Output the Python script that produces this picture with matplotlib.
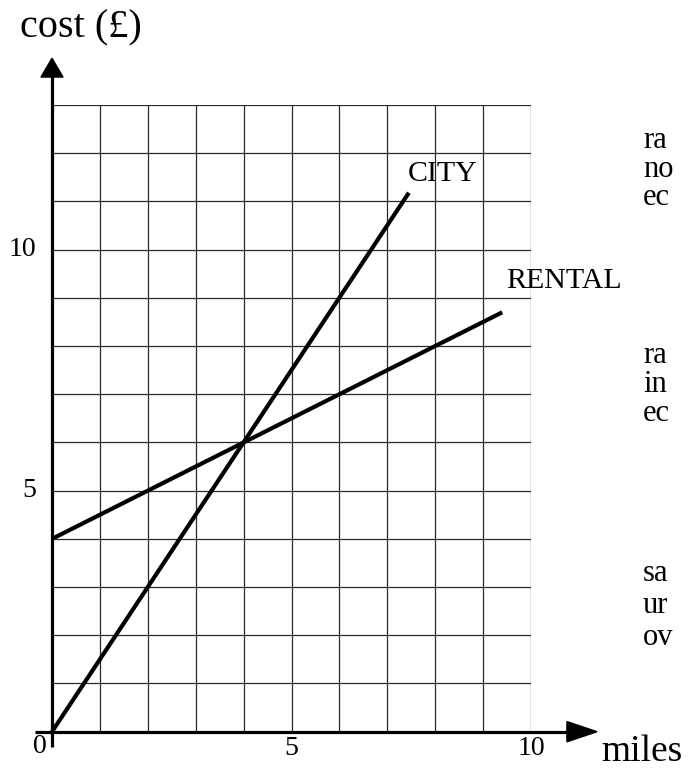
import matplotlib
matplotlib.use("Agg")
import matplotlib.pyplot as plt
from matplotlib.patches import Polygon

plt.rcParams['font.family'] = ['Liberation Serif', 'DejaVu Serif']

# Cost lines for the two services
city_miles = [0, 7.45]
city_cost = [0, 11.18]
rental_miles = [0, 9.4]
rental_cost = [4, 8.7]

x_ticks = list(range(0, 11))
y_ticks = list(range(0, 14))
x_tick_labels = {5: "5", 10: "10"}
y_tick_labels = {5: "5", 10: "10"}

W, H = 694, 769
fig = plt.figure(figsize=(W / 100, H / 100), dpi=100)
x0, y0, x1, y1 = 52, 731.7, 531, 105
ax = fig.add_axes([x0 / W, 1 - y0 / H, (x1 - x0) / W, (y0 - y1) / H])
ax.set_xlim(0, 10)
ax.set_ylim(0, 13)
for s in ax.spines.values():
    s.set_visible(False)
ax.set_xticks(x_ticks)
ax.set_yticks(y_ticks)
ax.set_xticklabels([])
ax.set_yticklabels([])
ax.tick_params(length=0)
ax.grid(True, color='#2a2a2a', lw=0.9)
ax.set_axisbelow(True)

# main axes with arrowheads
ax.plot([-0.35, 10.77], [0, 0], color='black', lw=2.3, clip_on=False,
        solid_capstyle='butt', zorder=4)
ax.plot([0, 0], [-0.32, 13.6], color='black', lw=2.3, clip_on=False,
        solid_capstyle='butt', zorder=4)
ax.add_patch(Polygon([[10.75, 0.21], [10.75, -0.21], [11.38, 0]], closed=True,
                     color='black', clip_on=False, zorder=5))
ax.add_patch(Polygon([[-0.23, 13.58], [0.23, 13.58], [0, 13.97]], closed=True,
                     color='black', clip_on=False, zorder=5))

ax.plot(city_miles, city_cost, color='black', lw=3.0, solid_capstyle='butt',
        clip_on=False, zorder=6)
ax.plot(rental_miles, rental_cost, color='black', lw=3.0, solid_capstyle='butt',
        clip_on=False, zorder=6)

ax.text(7.43, 11.43, "CITY", fontsize=21.5, ha='left', va='baseline')
ax.text(9.49, 9.21, "RENTAL", fontsize=21.5, ha='left', va='baseline')

for v, lab in x_tick_labels.items():
    ax.text(v, -0.34, lab, fontsize=20, ha='center', va='center', clip_on=False)
for v, lab in y_tick_labels.items():
    ax.text(-0.33, v, lab, fontsize=20, ha='right', va='center', clip_on=False)
ax.text(-0.25, -0.3, "0", fontsize=20, ha='center', va='center')

ax.text(-0.67, 14.40, "cost (£)", fontsize=29, ha='left', va='baseline')
ax.text(11.46, -0.61, "miles", fontsize=27, ha='left', va='baseline')

# text column at the right edge
side_text = [("ra", 148), ("no", 177), ("ec", 205),
             ("ra", 363), ("in", 392), ("ec", 421),
             ("sa", 581), ("ur", 613), ("ov", 645)]
for t, yb in side_text:
    fig.text(643 / W, 1 - yb / H, t, fontsize=22, ha='left', va='baseline')

fig.savefig("out.png", dpi=100)
